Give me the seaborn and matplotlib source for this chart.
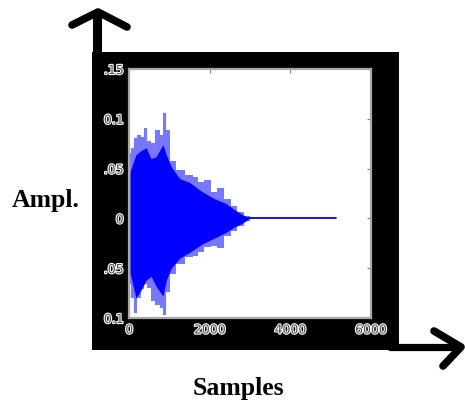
import matplotlib
matplotlib.use("Agg")
import matplotlib.pyplot as plt
import matplotlib.patheffects as pe
from matplotlib.patches import Rectangle
from matplotlib.lines import Line2D
import numpy as np
import pandas as pd
import seaborn as sns

# ---- data ----
outer_s = [20, 68, 150, 235, 335, 418, 485, 585, 710, 793, 875, 960, 1085, 1250, 1500,
           1640, 1770, 1935, 2100, 2270, 2435, 2600, 2770, 2935, 3050]
outer_up = [0.066, 0.071, 0.081, 0.084, 0.082, 0.091, 0.078, 0.076, 0.089, 0.084, 0.106, 0.089,
            0.058, 0.049, 0.044, 0.042, 0.037, 0.039, 0.027, 0.031, 0.019, 0.012, 0.006, 0.002, 0.0005]
outer_lo = [-0.066, -0.080, -0.095, -0.080, -0.071, -0.066, -0.070, -0.083, -0.087, -0.090, -0.097,
            -0.074, -0.056, -0.046, -0.039, -0.038, -0.034, -0.029, -0.028, -0.030, -0.018, -0.013,
            -0.008, -0.003, -0.0005]

inner_s = [20, 165, 290, 418, 540, 665, 835, 918, 1040, 1250, 1500, 1800, 2100, 2400, 2600, 2800, 2950]
inner_up = [0.047, 0.064, 0.068, 0.071, 0.060, 0.062, 0.074, 0.064, 0.052, 0.040, 0.036,
            0.027, 0.020, 0.015, 0.009, 0.004, 0.001]
inner_lo = [-0.055, -0.080, -0.072, -0.062, -0.058, -0.068, -0.078, -0.062, -0.050, -0.040, -0.034,
            -0.026, -0.020, -0.014, -0.009, -0.005, -0.001]

tail_s = [2950, 5140]
tail_v = [0.0, 0.0]

y_ticks = [0.15, 0.1, 0.05, 0.0, -0.05, -0.1]
y_ticklabels = ['.15', '0.1', '.05', '0', '.05', '0.1']
x_ticks = [0, 2000, 4000, 6000]
x_ticklabels = ['0', '2000', '4000', '6000']

# ---- figure ----
sns.set_style("white")
W, H = 465, 405
fig = plt.figure(figsize=(W / 100, H / 100), dpi=100)
fig.patch.set_facecolor("white")

def fx(px):
    return px / W

def fy(py):
    return 1 - py / H

# black frame
fig.patches.append(Rectangle((fx(92), fy(350)), (399 - 92) / W, (350 - 52) / H,
                             transform=fig.transFigure, facecolor="black",
                             edgecolor="none", zorder=-2, figure=fig))

# arrows
def fig_line(xs, ys, lw):
    ln = Line2D([fx(x) for x in xs], [fy(y) for y in ys], transform=fig.transFigure,
                color="black", linewidth=lw, solid_capstyle="round",
                solid_joinstyle="round", zorder=-1, figure=fig)
    fig.lines.append(ln)

fig_line([97, 97], [60, 14], 6.5)
fig_line([72, 98, 127], [25, 12, 27], 5.5)
fig_line([390, 459], [346.5, 346.5], 5.2)
fig_line([434, 461, 443], [331, 347, 366], 5.5)

ax = fig.add_axes([fx(129.3), fy(318), (371 - 129.3) / W, (318 - 69) / H])
ax.set_zorder(5)
ax.set_facecolor("white")

light = "#7878ff"
core = "#0000ff"
ax.fill_between(outer_s, outer_lo, outer_up, step="mid", color=light, linewidth=0, zorder=1)
ax.vlines(outer_s, outer_lo, outer_up, color=light, linewidth=1.6, zorder=1.5)
ax.fill_between(inner_s, inner_lo, inner_up, color=core, linewidth=0, zorder=2)
sns.lineplot(x=tail_s, y=tail_v, ax=ax, color=core, linewidth=1.3, zorder=3)

ax.set_xlim(0, 6000)
ax.set_ylim(-0.1, 0.15)
ax.set_xticks(x_ticks)
ax.set_xticklabels(x_ticklabels)
ax.set_yticks(y_ticks)
ax.set_yticklabels(y_ticklabels)
ax.tick_params(direction="in", length=3, width=0.8, color="#808080",
               top=True, right=True, labelsize=9, labelcolor="#505050", pad=4)
for lab in ax.get_xticklabels() + ax.get_yticklabels():
    lab.set_path_effects([pe.withStroke(linewidth=1.6, foreground="white")])
for sp in ax.spines.values():
    sp.set_color("#a8a8a8")
    sp.set_linewidth(1.6)
    sp.set_visible(True)
ax.set_xlabel("")
ax.set_ylabel("")

fig.text(fx(46), fy(200), "Ampl.", ha="center", va="center", fontsize=18.5,
         fontweight="bold", family="Liberation Serif", color="black")
fig.text(fx(238), fy(388), "Samples", ha="center", va="center", fontsize=18.5,
         fontweight="bold", family="Liberation Serif", color="black")

fig.savefig("out.png", dpi=100, facecolor="white")
